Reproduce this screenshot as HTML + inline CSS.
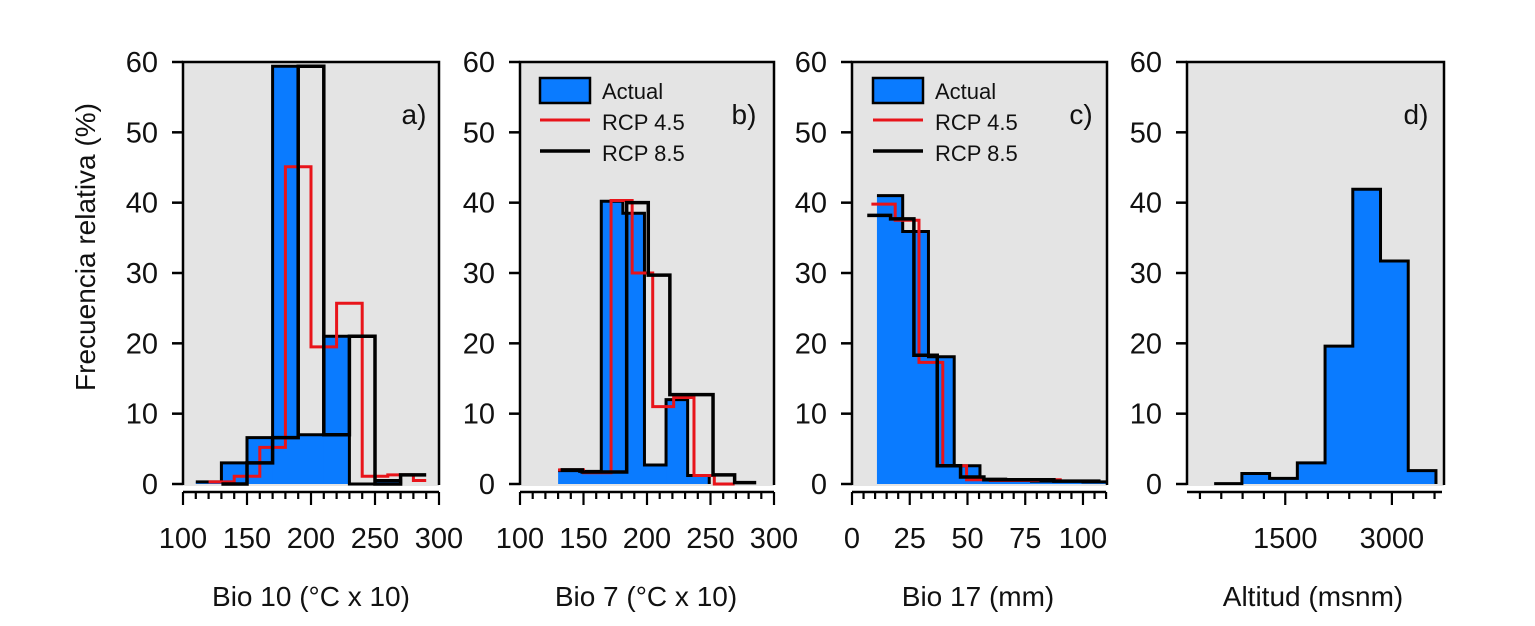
<!DOCTYPE html>
<html><head><meta charset="utf-8"><style>
html,body{margin:0;padding:0;background:#fff;}
svg{display:block;font-family:"Liberation Sans",Arial,sans-serif;}
</style></head><body>
<svg id="chart" width="1535" height="626" viewBox="0 0 1535 626" xmlns="http://www.w3.org/2000/svg"></svg>
<script>
// ---- Panel a: Bio 10 ----
const actualEdgesA = [110,130,150,170,190,210,230,250,270];
const actualValuesA = [0.3,3,6.6,59.4,7,21,0,0.5];
const rcp45EdgesA = [120,140,160,180,200,220,240,260,280,290];
const rcp45ValuesA = [0.3,1.1,5.2,45.1,19.5,25.7,1.1,1.3,0.5];
const rcp85EdgesA = [130,150,170,190,210,230,250,270,290];
const rcp85ValuesA = [0,3,6.6,59.4,7,21,0,1.3];
// ---- Panel b: Bio 7 ----
const actualEdgesB = [130,147,164,181,198,215,232,249];
const actualValuesB = [1.9,1.8,40.2,38.5,2.7,12,1.2];
const rcp45EdgesB = [130,150,171.7,188.3,204.5,221,237,253,269];
const rcp45ValuesB = [2.0,1.6,40.3,30,11,12.3,1.2,0];
const rcp85EdgesB = [132,149,167,184,201,218,235,252,269,286];
const rcp85ValuesB = [2.0,1.7,1.7,40,29.7,12.7,12.7,1.3,0.2];
// ---- Panel c: Bio 17 ----
const actualEdgesC = [10.8,21.95,33.1,44.25,55.4,66.55,77.7,88.85,100,111.15];
const actualValuesC = [41,35.9,18.1,2.6,0.7,0.5,0.4,0.4,0.3];
const rcp45EdgesC = [8.4,18.7,29,39.3,49.6,59.9,70.2,80.5,90.8];
const rcp45ValuesC = [39.8,37.5,17.3,2.6,0.6,0.5,0.5,0.6];
const rcp85EdgesC = [6.6,16.7,26.8,36.9,47,57.1,67.2,77.3,87.4,97.5,107.6];
const rcp85ValuesC = [38.2,37.7,18.3,2.6,1.0,0.6,0.6,0.6,0.4,0.4];
// ---- Panel d: Altitud ----
const actualEdgesD = [500,890,1280,1670,2060,2450,2840,3230,3620];
const actualValuesD = [0.05,1.5,0.8,3.0,19.6,41.9,31.7,1.9];
// ---- axes ----
const yTicks = [0,10,20,30,40,50,60];
const xTicksA = [100,150,200,250,300];
const xTicksB = [100,150,200,250,300];
const xTicksC = [0,25,50,75,100];
const xTicksD = [1500,3000];
const legendLabels = ["Actual","RCP 4.5","RCP 8.5"];

const NS = "http://www.w3.org/2000/svg";
const svg = document.getElementById("chart");
function mk(tag, attrs, parent){
  const e = document.createElementNS(NS, tag);
  for (const k in attrs) e.setAttribute(k, attrs[k]);
  (parent||svg).appendChild(e);
  return e;
}
const Y0 = 484, Y60 = 62;
function yScale(v){ return Y0 - v*(Y0-Y60)/60; }

const panels = [
 {id:"a", left:183, right:439, xmin:100, xmax:300, ticks:xTicksA, minorStep:10, minorStart:100, minorEnd:300,
  title:"Bio 10 (°C x 10)", titleX:311, label:"a)", labelX:414,
  series:[[actualEdgesA,actualValuesA],[rcp45EdgesA,rcp45ValuesA],[rcp85EdgesA,rcp85ValuesA]], legend:false},
 {id:"b", left:520, right:774, xmin:100, xmax:300, ticks:xTicksB, minorStep:10, minorStart:100, minorEnd:300,
  title:"Bio 7 (°C x 10)", titleX:646, label:"b)", labelX:744,
  series:[[actualEdgesB,actualValuesB],[rcp45EdgesB,rcp45ValuesB],[rcp85EdgesB,rcp85ValuesB]], legend:true, legX:540},
 {id:"c", left:852, right:1107, xmin:0, xmax:110.4, ticks:xTicksC, minorStep:5, minorStart:0, minorEnd:110,
  title:"Bio 17 (mm)", titleX:978, label:"c)", labelX:1081,
  series:[[actualEdgesC,actualValuesC],[rcp45EdgesC,rcp45ValuesC],[rcp85EdgesC,rcp85ValuesC]], legend:true, legX:873},
 {id:"d", left:1187, right:1444, xmin:118, xmax:3733, ticks:xTicksD, minorStep:300, minorStart:300, minorEnd:3600,
  title:"Altitud (msnm)", titleX:1313, label:"d)", labelX:1416,
  series:[[actualEdgesD,actualValuesD]], legend:false}
];

const styles = [
  {fill:"#0a7bff", stroke:"#000", sw:3, name:"actual"},
  {fill:"none", stroke:"#e8141a", sw:3, name:"rcp45"},
  {fill:"none", stroke:"#000", sw:3.5, name:"rcp85"}
];

panels.forEach(p=>{
  const xs = v => p.left + (v-p.xmin)*(p.right-p.left)/(p.xmax-p.xmin);
  const g = mk("g",{});
  
  
  const bg = mk("rect",{x:p.left,y:Y60,width:p.right-p.left,height:486-Y60,fill:"#e4e4e4"},g);
  
  
  const cp = mk("clipPath",{id:"clip"+p.id},g);
  mk("rect",{x:p.left,y:Y60-5,width:p.right-p.left,height:486-Y60+5},cp);
  const sg = mk("g",{"clip-path":"url(#clip"+p.id+")"},g);
  p.series.forEach((s,si)=>{
    const st = styles[si];
    const [edges, vals] = s;
    if (si===0){
      vals.forEach((v,i)=>{
        const x0 = xs(edges[i]), x1 = xs(edges[i+1]);
        const r = mk("rect",{x:x0,y:yScale(v),width:x1-x0+0.5,height:Math.max(0,Y0-yScale(v)),fill:st.fill},sg);
        
        
      });
    }
    let d = "";
    vals.forEach((v,i)=>{
      d += (i===0?"M":" L") + `${xs(edges[i])},${yScale(v)} L${xs(edges[i+1])},${yScale(v)}`;
    });
    if (si===0) d += ` L${xs(edges[vals.length])},${Y0}`;
    const pth = mk("path",{d:d,fill:"none",stroke:st.stroke,"stroke-width":st.sw,"stroke-linejoin":"miter"},sg);
    
    
  });
  mk("path",{d:`M${p.left},${Y0+1} L${p.left},${Y60} L${p.right},${Y60} L${p.right},${Y0+1}`,fill:"none",stroke:"#000","stroke-width":2.5},g);
  yTicks.forEach(t=>{
    const y = yScale(t);
    mk("line",{x1:p.left-11,x2:p.left,y1:y,y2:y,stroke:"#000","stroke-width":2.5},g);
    const tx = mk("text",{x:p.left-25,y:y+10,"text-anchor":"end","font-size":29,fill:"#111"},g);
    tx.textContent = t;
    
    
  });
  const ax0 = xs(p.minorStart), ax1 = xs(p.minorEnd);
  const axl = mk("line",{x1:Math.min(ax0,p.left),x2:Math.max(ax1,p.right-2),y1:492,y2:492,stroke:"#000","stroke-width":2.5},g);
  
  
  for (let v=p.minorStart; v<=p.minorEnd+1e-6; v+=p.minorStep){
    const major = p.ticks.indexOf(v)>=0;
    mk("line",{x1:xs(v),x2:xs(v),y1:492,y2:major?505:499,stroke:"#000","stroke-width":2.2},g);
  }
  p.ticks.forEach(t=>{
    const tx = mk("text",{x:xs(t),y:548,"text-anchor":"middle","font-size":29,fill:"#111"},g);
    tx.textContent = t;
    
    
  });
  const ti = mk("text",{x:p.titleX,y:606,"text-anchor":"middle","font-size":28,fill:"#111"},g);
  ti.textContent = p.title;
  
  
  const lb = mk("text",{x:p.labelX,y:124,"text-anchor":"middle","font-size":28,fill:"#111"},g);
  lb.textContent = p.label;
  
  
  if (p.legend){
    const lg = mk("g",{},g);
    
    
    mk("rect",{x:p.legX,y:78,width:50,height:25,fill:"#0a7bff",stroke:"#000","stroke-width":2.5},lg);
    mk("line",{x1:p.legX,x2:p.legX+50,y1:120,y2:120,stroke:"#e8141a","stroke-width":3},lg);
    mk("line",{x1:p.legX,x2:p.legX+50,y1:151,y2:151,stroke:"#000","stroke-width":3.5},lg);
    [99,130,161].forEach((yy,i)=>{
      const t = mk("text",{x:p.legX+62,y:yy,"font-size":22,fill:"#111"},lg);
      t.textContent = legendLabels[i];
      
      
    });
  }
});
const yt = mk("text",{x:0,y:0,"text-anchor":"middle","font-size":28,fill:"#111",transform:"translate(95,247) rotate(-90)"});
yt.textContent = "Frecuencia relativa (%)";


</script>
</body></html>
